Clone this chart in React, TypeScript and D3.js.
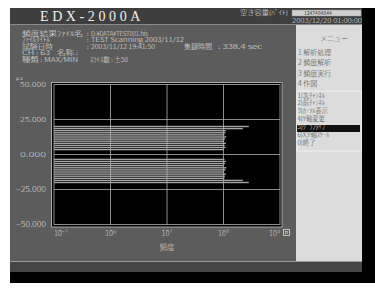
import React from 'react';
import * as d3 from 'd3';

// histogram bins (μ ε) and counts
const maxBins = [20, 18.5, 17, 15.5, 14, 12.5, 11, 9.5, 8, 6.5, 5, 3.5];
const maxCounts = [280, 220, 110, 108, 104, 112, 106, 102, 110, 105, 108, 100];
const minBins = [-3.5, -5, -6.5, -8, -9.5, -11, -12.5, -14, -15.5, -17, -18.5, -20];
const minCounts = [104, 110, 106, 100, 112, 108, 103, 110, 106, 104, 220, 280];

const yTicks = [50, 25, 0, -25, -50];
const xTickExps = [-1, 0, 1, 2, 3];
const expLabels = ['⁻¹', '⁰', '¹', '²', '³'];

const menuMain = ['1 解析処理', '2 頻度解析', '3 頻度実行', '4 作図'];
const menuSub = ['1)次ﾁｬﾝﾈﾙ', '2)前ﾁｬﾝﾈﾙ', '3)ｶｰｿﾙ表示', '4)Y軸変更', '5)ｸﾞﾗﾌﾀｲﾌﾟ', '6)X,Y軸ｽｹｰﾙ', '0)終了'];
const selectedSub = 4;

const FONT = '"Noto Sans CJK JP", "DejaVu Sans", sans-serif';

export default function App() {
  const x = d3.scaleLog().domain([0.1, 1000]).range([54, 280]);
  const y = d3.scaleLinear().domain([-50, 50]).range([224.5, 84.5]);

  const bars = [
    ...maxBins.map((v, i) => ({ v, c: maxCounts[i] })),
    ...minBins.map((v, i) => ({ v, c: minCounts[i] })),
  ];

  const txt = { fill: '#e4e4e4', fontFamily: FONT, fontSize: 6.3, fontWeight: 300 } as const;
  // info block: narrow, tall screen font -> squeeze horizontally
  const info = (x0: number, y0: number, s: string, w?: number) => (
    <text x={x0} y={y0} {...txt} textLength={w} lengthAdjust={w ? 'spacingAndGlyphs' : undefined}>{s}</text>
  );

  return (
    <svg width={375} height={293} style={{ position: 'absolute', left: 0, top: 0, background: '#fff' }}>
      {/* frame + shadow */}
      <rect x={362} y={8} width={13} height={275} fill="#000" />
      <rect x={10} y={272} width={365} height={11} fill="#000" />
      <rect x={10} y={8} width={352} height={264} fill="#5c5c5c" />
      {/* title bar */}
      <rect x={10} y={8} width={352} height={16} fill="#3e3e3e" />
      <line x1={10} x2={362} y1={24.5} y2={24.5} stroke="#8a8a8a" />
      <text x={40} y={21} fill="#f0f0f0" fontFamily='"Liberation Serif", serif' fontSize={14} letterSpacing={3.6}>EDX-2000A</text>
      {info(240, 15, '空き容量(ﾊﾞｲﾄ)', 48)}
      <rect x={292} y={10} width={69} height={6} fill="#d0d0d0" stroke="#999" strokeWidth={0.5} />
      <text x={304} y={15} fill="#333" fontFamily={FONT} fontSize={5}>1247484844</text>
      {info(292, 22.5, '2003/12/20 01:00:00', 70)}

      {/* info lines */}
      {info(22, 35.5, '頻度結果ﾌｧｲﾙ名', 61)}
      {info(87, 35.5, ':')}
      {info(91, 35.5, 'D:¥DATA¥TEST001.his', 57)}
      {info(22, 42, 'ﾌｧｲﾙﾀｲﾄﾙ', 28)}
      {info(87, 42, ':')}
      {info(91, 42, 'TEST Scanning 2003/11/12', 93)}
      {info(22, 48.5, '試験日時', 31)}
      {info(87, 48.5, ':')}
      {info(91, 48.5, '2003/11/12 19:41:50', 64)}
      {info(184, 48.5, '集録時間', 28)}
      {info(218, 48.5, ': 338.4 sec', 44)}
      {info(22, 55, 'CH : 63', 28)}
      {info(57, 55, '名称 :', 21)}
      {info(22, 61.5, '種類 : MAX/MIN', 56)}
      {info(90, 61.5, 'ｽﾗｲｽ数 : ±50', 38)}

      {/* plot */}
      <rect x={51.5} y={82.5} width={230.5} height={144.5} fill="#000" stroke="#a8a8a8" />
      <rect x={54} y={84.5} width={226} height={140} fill="none" stroke="#8c8c8c" />
      {bars.map((b, i) => (
        <rect key={i} x={x(0.1)} y={y(b.v + 0.5)} width={x(b.c) - x(0.1)} height={y(b.v - 0.5) - y(b.v + 0.5)} fill="#a4a4a4" />
      ))}
      {yTicks.slice(1, -1).map(t => (
        <line key={t} x1={54} x2={280} y1={y(t)} y2={y(t)} stroke="#b0b0b0" strokeWidth={0.8} />
      ))}
      {xTickExps.slice(1, -1).map(e => (
        <line key={e} x1={x(10 ** e)} x2={x(10 ** e)} y1={84.5} y2={224.5} stroke="#b0b0b0" strokeWidth={0.8} />
      ))}
      <text x={16} y={79.5} {...txt} fontSize={5}>μ ε</text>
      {yTicks.map(t => (
        <text key={t} x={46} y={y(t) + 2.5} {...txt} fill="#d8d8d8" textAnchor="end" fontSize={7} textLength={t < 0 ? 30 : 26} lengthAdjust="spacingAndGlyphs">
          {d3.format('.3f')(t)}
        </text>
      ))}
      {xTickExps.map((e, i) => {
        const anchor = i === 0 ? 'start' : i === xTickExps.length - 1 ? 'end' : 'middle';
        return (
          <text key={e} x={x(10 ** e)} y={235.5} {...txt} fill="#d8d8d8" fontSize={7.5} textAnchor={anchor}>
            10{expLabels[i]}
          </text>
        );
      })}
      <rect x={283.5} y={229.5} width={6} height={6} fill="none" stroke="#ddd" strokeWidth={0.8} />
      <rect x={285.5} y={231.5} width={2} height={2} fill="none" stroke="#ddd" strokeWidth={0.6} />
      <text x={167} y={250} {...txt} fill="#d8d8d8" fontSize={7.5} textAnchor="middle">頻度</text>

      {/* menu */}
      <rect x={296} y={25} width={66} height={236} fill="#dcdcdc" />
      <text x={334} y={41} fill="#555" fontFamily={FONT} fontSize={7} fontWeight={300} textAnchor="middle">メニュー</text>
      {menuMain.map((m, i) => (
        <text key={m} x={298} y={55 + i * 10.3} fill="#444" fontFamily={FONT} fontSize={7} fontWeight={300}>{m}</text>
      ))}
      <rect x={297} y={91} width={64.5} height={60} fill="none" stroke="#f4f4f4" strokeWidth={0.8} />
      <rect x={297} y={125} width={63} height={7} fill="#111" />
      {menuSub.map((m, i) => (
        <text key={m} x={297.5} y={97.5 + i * 7.9} fill={i === selectedSub ? '#fff' : '#444'} fontFamily={FONT} fontSize={6.3} fontWeight={300}>{m}</text>
      ))}

      {/* bottom bar */}
      <rect x={10} y={261} width={352} height={11} fill="#454545" />
      <line x1={10} x2={362} y1={261.5} y2={261.5} stroke="#999" />
    </svg>
  );
}
